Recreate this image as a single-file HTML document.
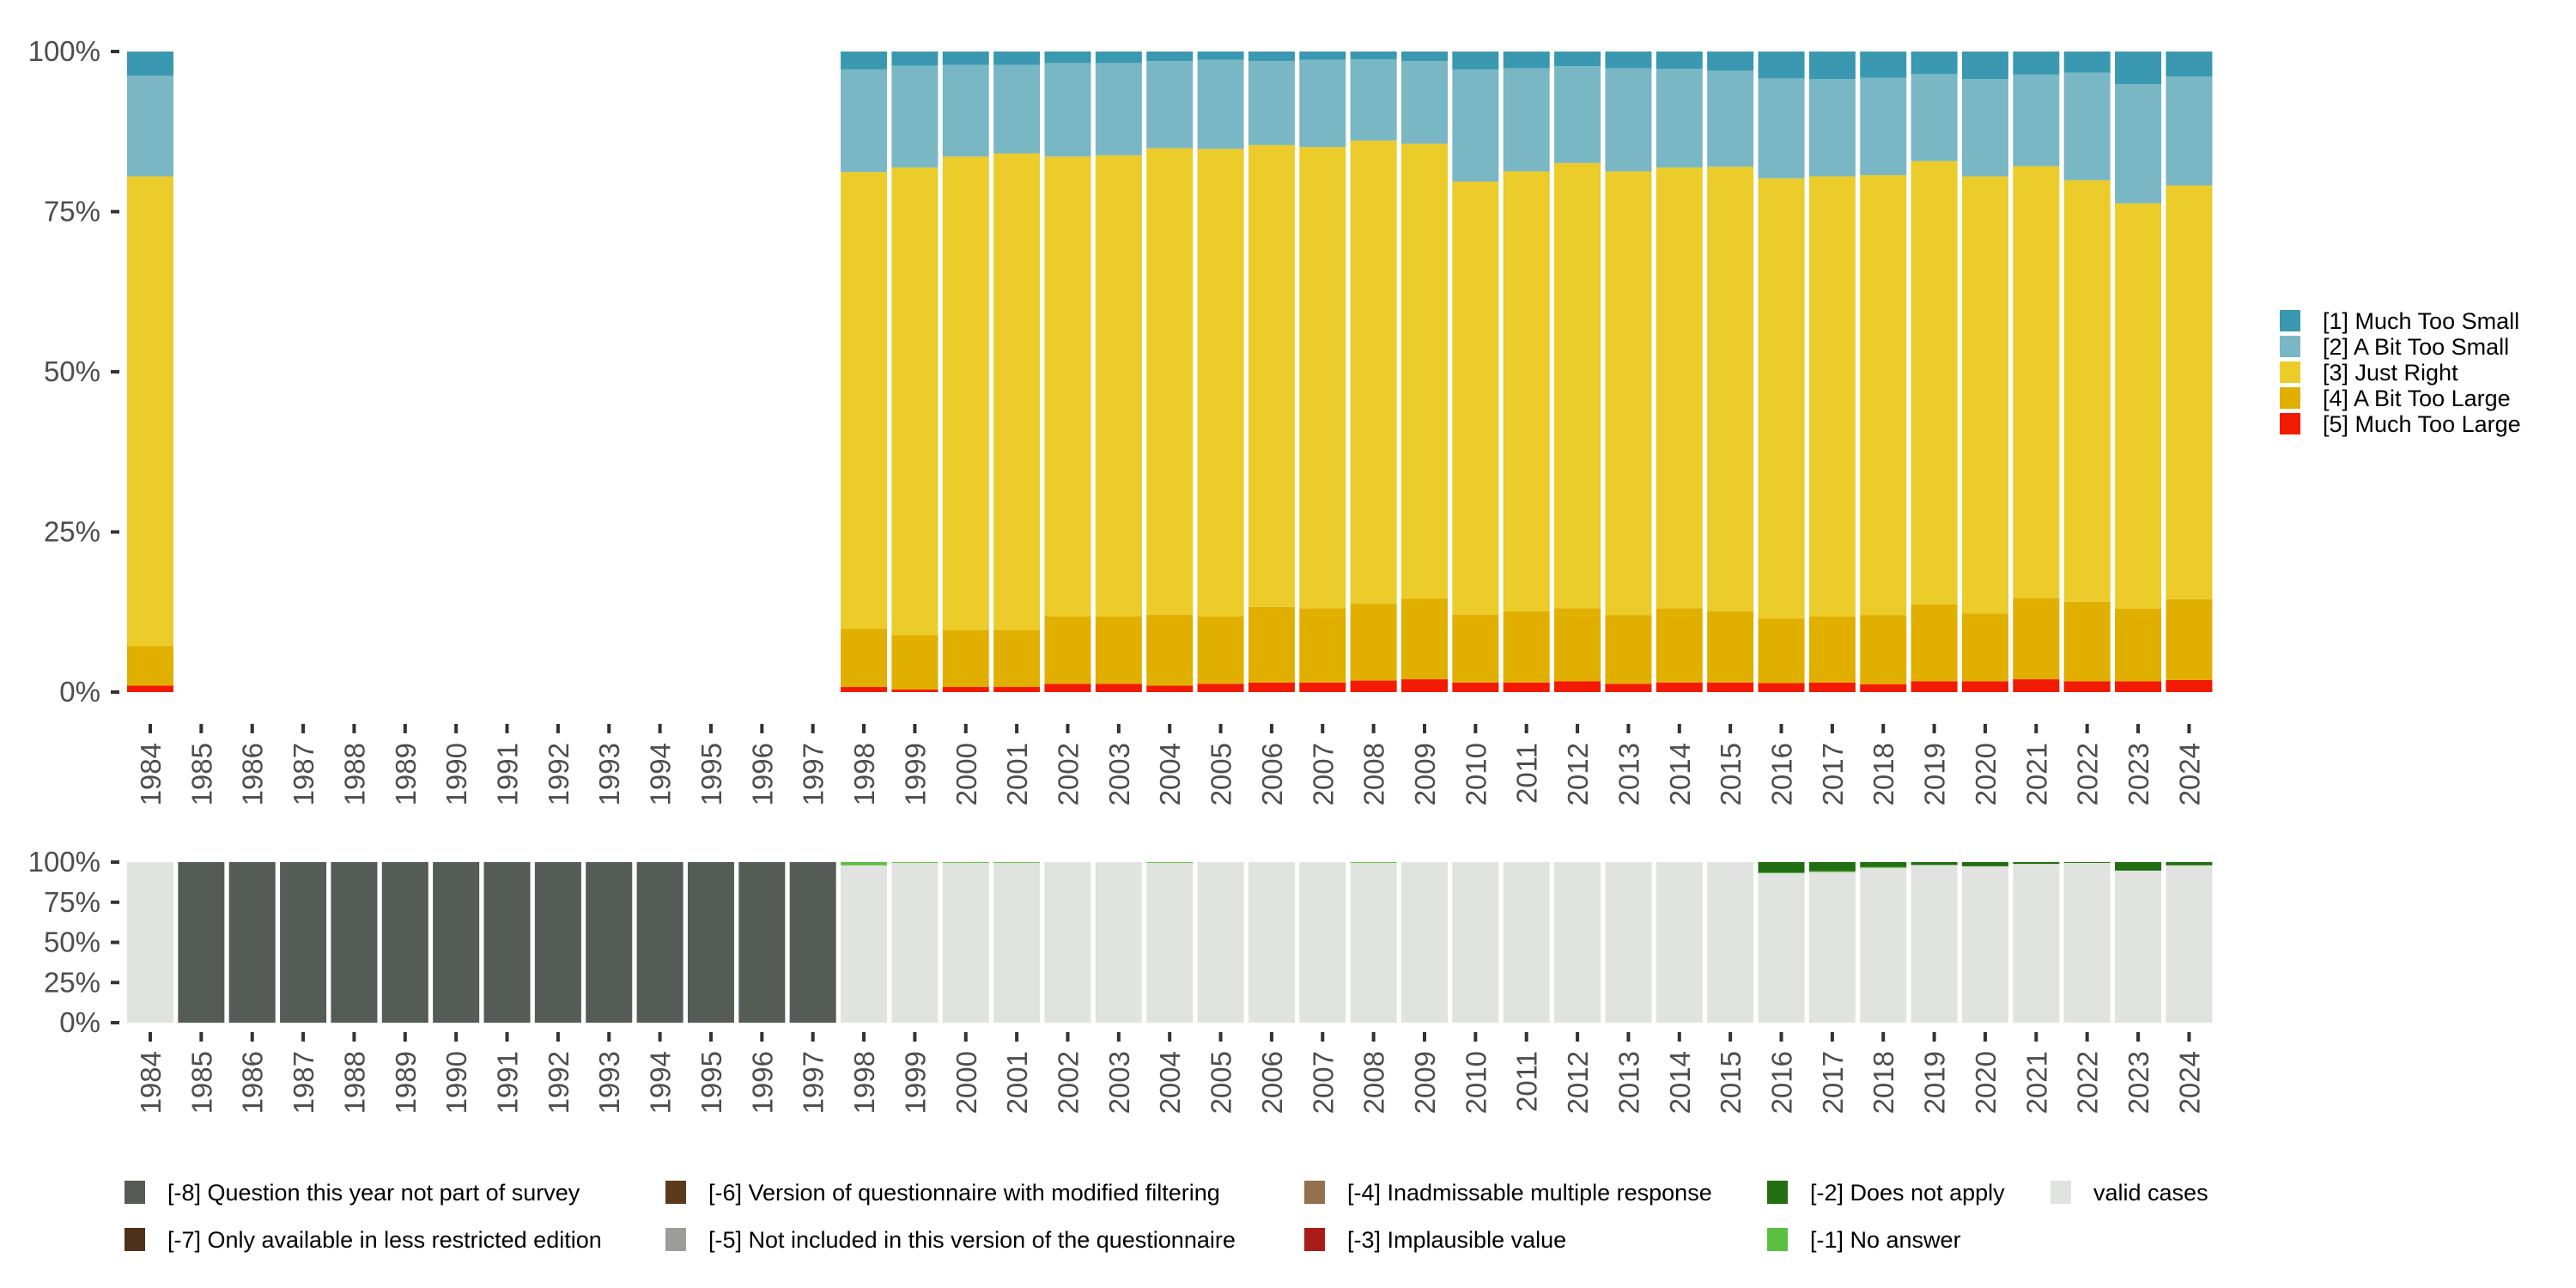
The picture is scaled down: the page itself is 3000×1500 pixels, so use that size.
<!DOCTYPE html>
<html><head><meta charset="utf-8"><style>
html,body{margin:0;padding:0;background:#fff;}
svg{display:block;font-family:"Liberation Sans",sans-serif;}
</style></head><body>
<svg id="chart" width="3000" height="1500" viewBox="0 0 3000 1500">
<g id="topPanel"></g>
<g id="botPanel"></g>
<g id="leg1"></g>
<g id="leg2"></g>
</svg>
<script>
const years = [1984,1985,1986,1987,1988,1989,1990,1991,1992,1993,1994,1995,1996,1997,1998,1999,2000,2001,2002,2003,2004,2005,2006,2007,2008,2009,2010,2011,2012,2013,2014,2015,2016,2017,2018,2019,2020,2021,2022,2023,2024];
const muchTooLarge = [1.0,null,null,null,null,null,null,null,null,null,null,null,null,null,0.8,0.4,0.8,0.8,1.3,1.3,1.0,1.3,1.5,1.5,1.8,2.0,1.5,1.5,1.7,1.3,1.5,1.5,1.4,1.5,1.2,1.7,1.7,2.0,1.7,1.7,1.9];
const bitTooLarge = [6.2,null,null,null,null,null,null,null,null,null,null,null,null,null,9.1,8.5,8.9,8.9,10.5,10.5,11.1,10.5,11.8,11.6,12.0,12.6,10.6,11.1,11.4,10.7,11.6,11.1,10.1,10.3,10.8,12.0,10.6,12.7,12.4,11.3,12.6];
const justRight = [73.3,null,null,null,null,null,null,null,null,null,null,null,null,null,71.3,73.0,73.9,74.4,71.8,72.0,72.8,73.0,72.1,72.0,72.3,71.0,67.6,68.7,69.5,69.3,68.8,69.4,68.7,68.7,68.7,69.2,68.2,67.4,65.8,63.3,64.6];
const bitTooSmall = [15.7,null,null,null,null,null,null,null,null,null,null,null,null,null,16.0,15.9,14.3,13.8,14.6,14.4,13.6,13.9,13.1,13.6,12.7,12.9,17.5,16.1,15.1,16.1,15.4,15.0,15.6,15.2,15.2,13.6,15.2,14.3,16.8,18.6,17.0];
const muchTooSmall = [3.8,null,null,null,null,null,null,null,null,null,null,null,null,null,2.8,2.2,2.1,2.1,1.8,1.8,1.5,1.3,1.5,1.3,1.2,1.5,2.8,2.6,2.3,2.6,2.7,3.0,4.2,4.3,4.1,3.5,4.3,3.6,3.3,5.1,3.9];
const yTicks = [0,25,50,75,100];
const yTickLabels = ["0%","25%","50%","75%","100%"];
const notInSurvey = [0,100,100,100,100,100,100,100,100,100,100,100,100,100,0,0,0,0,0,0,0,0,0,0,0,0,0,0,0,0,0,0,0,0,0,0,0,0,0,0,0];
const noAnswer = [0,0,0,0,0,0,0,0,0,0,0,0,0,0,2.0,0.5,0.5,0.5,0,0,0.5,0,0,0,0.5,0,0,0,0,0,0,0,0.5,0.5,0.5,0,0,0,0,0,0];
const doesNotApply = [0,0,0,0,0,0,0,0,0,0,0,0,0,0,0,0,0,0,0,0,0,0,0,0,0,0,0,0,0,0,0,0,6.5,5.7,3.1,1.8,2.6,1.1,0.5,5.3,2.0];

const NS="http://www.w3.org/2000/svg";
function mk(tag,attrs,parent){const e=document.createElementNS(NS,tag);for(const k in attrs)e.setAttribute(k,attrs[k]);parent.appendChild(e);return e;}
const slot=59.36, x0=175, bw=54;
function xc(i){return x0+i*slot;}

function axes(g,yScale,tickTop,name){
  yTicks.forEach((t,i)=>{
    const y=yScale(t);
    const tk=mk('rect',{x:129,y:y-2,width:10,height:4,fill:'#333'},g);
    
    
    const tx=mk('text',{x:117,y:y+11,'text-anchor':'end','font-size':33,fill:'#4d4d4d'},g);
    tx.textContent=yTickLabels[i];
    
    
  });
  years.forEach((yr,i)=>{
    const x=xc(i);
    const tk=mk('rect',{x:x-2,y:tickTop,width:4,height:11,fill:'#333'},g);
    
    
    const tx=mk('text',{x:0,y:0,'text-anchor':'end','font-size':33,fill:'#4d4d4d',transform:`translate(${x+12},${tickTop+22}) rotate(-90)`},g);
    tx.textContent=yr;
    
    
  });
}

const topG=document.getElementById('topPanel');
const yT=v=>806-v*(806-60)/100;
const topSeries=[[muchTooLarge,'#F21A00','much-too-large'],[bitTooLarge,'#E1AF00','bit-too-large'],[justRight,'#EBCC2A','just-right'],[bitTooSmall,'#79B7C5','bit-too-small'],[muchTooSmall,'#3A98B1','much-too-small']];
years.forEach((yr,i)=>{
  if(muchTooLarge[i]==null)return;
  let tot=0; topSeries.forEach(s=>tot+=s[0][i]);
  let cum=0;
  topSeries.forEach(s=>{
    const v=s[0][i]/tot*100;
    const r=mk('rect',{x:xc(i)-bw/2,y:yT(cum+v),width:bw,height:yT(cum)-yT(cum+v),fill:s[1]},topG);
    
    
    cum+=v;
  });
});
axes(topG,yT,843,'top');

const botG=document.getElementById('botPanel');
const yB=v=>1191-v*(1191-1004)/100;
years.forEach((yr,i)=>{
  const valid=100-notInSurvey[i]-noAnswer[i]-doesNotApply[i];
  const segs=[[valid,'#E0E3DF','valid'],[noAnswer[i],'#5BC042','no-answer'],[doesNotApply[i],'#226E12','does-not-apply'],[notInSurvey[i],'#555B55','not-in-survey']];
  let cum=0;
  segs.forEach(s=>{
    if(s[0]<=0)return;
    const r=mk('rect',{x:xc(i)-bw/2,y:yB(cum+s[0]),width:bw,height:yB(cum)-yB(cum+s[0]),fill:s[1]},botG);
    
    
    cum+=s[0];
  });
});
axes(botG,yB,1202,'bottom');

const leg1=document.getElementById('leg1');
const l1=[['[1] Much Too Small','#3A98B1'],['[2] A Bit Too Small','#79B7C5'],['[3] Just Right','#EBCC2A'],['[4] A Bit Too Large','#E1AF00'],['[5] Much Too Large','#F21A00']];
l1.forEach((d,i)=>{
  const y=361+i*30;
  const r=mk('rect',{x:2655,y:y,width:24,height:25,fill:d[1]},leg1);
  
  
  const t=mk('text',{x:2705,y:y+22,'font-size':27,fill:'#000'},leg1);
  t.textContent=d[0];
  
  
});

const leg2=document.getElementById('leg2');
const l2=[['[-8] Question this year not part of survey','#555B55',145,0],['[-7] Only available in less restricted edition','#4D3219',145,1],
['[-6] Version of questionnaire with modified filtering','#5B3A1A',775,0],['[-5] Not included in this version of the questionnaire','#9A9D98',775,1],
['[-4] Inadmissable multiple response','#93714F',1519,0],['[-3] Implausible value','#A81C1A',1519,1],
['[-2] Does not apply','#226E12',2058,0],['[-1] No answer','#5BC042',2058,1],['valid cases','#E0E3DF',2388,0]];
l2.forEach(d=>{
  const y=d[3]?1430:1375;
  const r=mk('rect',{x:d[2],y:y,width:24,height:27,fill:d[1]},leg2);
  
  
  const t=mk('text',{x:d[2]+50,y:y+23,'font-size':27,fill:'#000'},leg2);
  t.textContent=d[0];
  
  
});
</script>
</body></html>
